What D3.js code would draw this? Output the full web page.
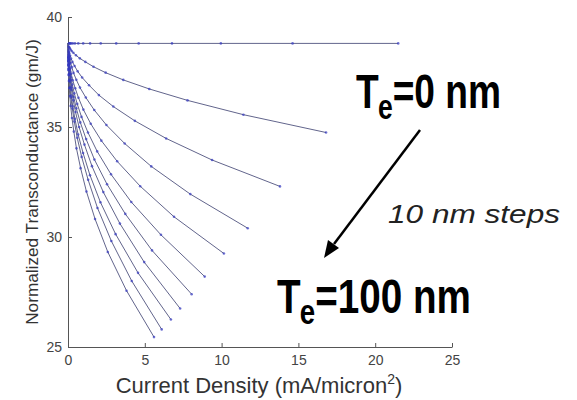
<!DOCTYPE html>
<html>
<head>
<meta charset="utf-8">
<script src="https://cdn.jsdelivr.net/npm/d3@7"></script>
<style>
  html, body { margin: 0; padding: 0; background: #fff; }
  svg { display: block; }
</style>
</head>
<body>
<svg id="chart" width="577" height="400"></svg>
<script>
// Oxide/extension thickness of each curve (nm)
const thickness = [0, 10, 20, 30, 40, 50, 60, 70, 80, 90, 100];

// Current density (mA/micron^2) and normalized transconductance (gm/J) per curve
const J_te0   = [0, 0.07, 0.10, 0.14, 0.21, 0.31, 0.45, 0.67, 0.99, 1.44, 2.13, 3.14, 4.60, 6.77, 9.95, 14.62, 21.5];
const G_te0   = [38.8, 38.8, 38.8, 38.8, 38.8, 38.8, 38.8, 38.8, 38.8, 38.8, 38.8, 38.8, 38.8, 38.8, 38.8, 38.8, 38.8];
const J_te10  = [0, 0.05, 0.08, 0.11, 0.17, 0.24, 0.35, 0.52, 0.77, 1.13, 1.66, 2.45, 3.60, 5.29, 7.78, 11.42, 16.8];
const G_te10  = [38.8, 38.66, 38.62, 38.58, 38.52, 38.45, 38.37, 38.26, 38.12, 37.96, 37.74, 37.47, 37.14, 36.73, 36.21, 35.56, 34.75];
const J_te20  = [0, 0.04, 0.06, 0.09, 0.14, 0.20, 0.29, 0.43, 0.63, 0.92, 1.37, 2.01, 2.95, 4.35, 6.39, 9.38, 13.8];
const G_te20  = [38.8, 38.50, 38.42, 38.34, 38.24, 38.11, 37.96, 37.77, 37.53, 37.25, 36.90, 36.45, 35.93, 35.28, 34.48, 33.50, 32.30];
const J_te30  = [0, 0.04, 0.05, 0.08, 0.12, 0.17, 0.25, 0.36, 0.54, 0.78, 1.16, 1.71, 2.50, 3.69, 5.42, 7.96, 11.7];
const G_te30  = [38.8, 38.41, 38.32, 38.21, 38.07, 37.91, 37.72, 37.46, 37.15, 36.79, 36.34, 35.77, 35.09, 34.25, 33.21, 31.95, 30.40];
const J_te40  = [0, 0.03, 0.05, 0.07, 0.10, 0.15, 0.21, 0.31, 0.47, 0.68, 1.00, 1.48, 2.17, 3.20, 4.70, 6.90, 10.15];
const G_te40  = [38.8, 38.27, 38.15, 38.02, 37.85, 37.65, 37.42, 37.12, 36.76, 36.33, 35.79, 35.15, 34.38, 33.44, 32.31, 30.92, 29.25];
const J_te50  = [0, 0.03, 0.04, 0.06, 0.09, 0.13, 0.19, 0.28, 0.41, 0.60, 0.88, 1.30, 1.90, 2.80, 4.12, 6.05, 8.90];
const G_te50  = [38.8, 38.21, 38.08, 37.93, 37.75, 37.53, 37.26, 36.93, 36.53, 36.05, 35.46, 34.75, 33.89, 32.85, 31.59, 30.10, 28.20];
const J_te60  = [0, 0.02, 0.04, 0.05, 0.08, 0.12, 0.17, 0.25, 0.37, 0.54, 0.80, 1.18, 1.72, 2.54, 3.73, 5.47, 8.05];
const G_te60  = [38.8, 38.17, 38.03, 37.87, 37.67, 37.43, 37.15, 36.79, 36.36, 35.85, 35.21, 34.45, 33.52, 32.40, 31.05, 29.39, 27.40];
const J_te70  = [0, 0.02, 0.03, 0.05, 0.07, 0.11, 0.15, 0.23, 0.34, 0.49, 0.72, 1.07, 1.56, 2.30, 3.38, 4.96, 7.30];
const G_te70  = [38.8, 38.13, 37.98, 37.81, 37.60, 37.35, 37.05, 36.68, 36.22, 35.68, 35.00, 34.20, 33.22, 32.04, 30.61, 28.86, 26.75];
const J_te80  = [0, 0.02, 0.03, 0.04, 0.07, 0.10, 0.14, 0.21, 0.31, 0.45, 0.66, 0.98, 1.43, 2.11, 3.10, 4.56, 6.70];
const G_te80  = [38.8, 38.02, 37.85, 37.67, 37.43, 37.16, 36.83, 36.43, 35.94, 35.37, 34.66, 33.82, 32.81, 31.58, 30.13, 28.37, 26.25];
const J_te90  = [0, 0.02, 0.03, 0.04, 0.06, 0.09, 0.13, 0.19, 0.28, 0.41, 0.60, 0.89, 1.31, 1.92, 2.82, 4.15, 6.10];
const G_te90  = [38.8, 37.99, 37.82, 37.62, 37.38, 37.10, 36.76, 36.34, 35.84, 35.25, 34.51, 33.64, 32.60, 31.32, 29.82, 28.00, 25.80];
const J_te100 = [0, 0.02, 0.03, 0.04, 0.06, 0.08, 0.12, 0.17, 0.26, 0.38, 0.55, 0.82, 1.20, 1.76, 2.59, 3.81, 5.60];
const G_te100 = [38.8, 37.78, 37.58, 37.36, 37.09, 36.77, 36.41, 35.96, 35.41, 34.79, 34.03, 33.13, 32.07, 30.82, 29.32, 27.56, 25.45];

const xTicks = [0, 5, 10, 15, 20, 25];
const yTicks = [25, 30, 35, 40];

const xLabel = "Current Density (mA/micron";
const xLabelSup = "2";
const yLabel = "Normalized Transconductance (gm/J)";

const curvesJ = [J_te0, J_te10, J_te20, J_te30, J_te40, J_te50, J_te60, J_te70, J_te80, J_te90, J_te100];
const curvesG = [G_te0, G_te10, G_te20, G_te30, G_te40, G_te50, G_te60, G_te70, G_te80, G_te90, G_te100];
const series = thickness.map((t, i) => ({
  te: t,
  pts: curvesJ[i].map((j, k) => ({ j: j, g: curvesG[i][k] }))
}));

const svg = d3.select("#chart");
const x = d3.scaleLinear().domain([0, 25]).range([68, 452]);
const y = d3.scaleLinear().domain([25, 40]).range([347, 17]);

const axisColor = "#555";
const tickFont = "'Liberation Sans', Arial, sans-serif";

// X axis
const gx = svg.append("g").attr("transform", `translate(0,${y(25)})`)
  .call(d3.axisBottom(x).tickValues(xTicks).tickSizeInner(-4).tickSizeOuter(0).tickPadding(8));
// Y axis
const gy = svg.append("g").attr("transform", `translate(${x(0)},0)`)
  .call(d3.axisLeft(y).tickValues(yTicks).tickSizeInner(-4).tickSizeOuter(0).tickPadding(6));
[gx, gy].forEach(g => {
  g.select(".domain").attr("stroke", axisColor).attr("stroke-width", 1);
  g.selectAll(".tick line").attr("stroke", axisColor);
  g.selectAll(".tick text").attr("fill", "#444").attr("font-family", tickFont).attr("font-size", 14);
});

// Curves
const line = d3.line().x(d => x(d.j)).y(d => y(d.g));
const gc = svg.append("g");
gc.selectAll("path.curve").data(series).join("path")
  .attr("class", "curve")
  .attr("d", d => line(d.pts))
  .attr("fill", "none")
  .attr("stroke", "#62658c")
  .attr("stroke-width", 1);
gc.selectAll("g.marks").data(series).join("g")
  .attr("class", "marks")
  .selectAll("circle").data(d => d.pts.slice(1)).join("circle")
  .attr("cx", d => x(d.j))
  .attr("cy", d => y(d.g))
  .attr("r", 1.3)
  .attr("fill", "#3338c0")
  .attr("fill-opacity", 0.7);

// Axis titles
const xt = svg.append("text")
  .attr("x", 259).attr("y", 393)
  .attr("text-anchor", "middle")
  .attr("font-family", tickFont).attr("font-size", 22).attr("fill", "#333");
xt.append("tspan").text(xLabel);
xt.append("tspan").attr("font-size", 14).attr("dy", -9).text(xLabelSup);
xt.append("tspan").attr("dy", 9).text(")");

svg.append("text")
  .attr("transform", "translate(38,182) rotate(-90)")
  .attr("text-anchor", "middle")
  .attr("font-family", tickFont).attr("font-size", 17.2).attr("fill", "#333")
  .text(yLabel);

// Annotations (condensed bold)
const bigFont = "'Liberation Sans', Arial, sans-serif";
function teLabel(xp, yp, rest, targetWidth) {
  const g = svg.append("g");
  const t = g.append("text").attr("x", 0).attr("y", 0)
    .attr("font-family", bigFont).attr("font-weight", "bold").attr("font-size", 49).attr("fill", "#000");
  t.append("tspan").text("T");
  t.append("tspan").attr("font-size", 35).attr("dy", 11).attr("dx", -1).text("e");
  t.append("tspan").attr("dy", -11).text(rest);
  const w = t.node().getBBox().width;
  g.attr("transform", `translate(${xp},${yp}) scale(${targetWidth / w},1)`);
}
teLabel(356, 108, "=0 nm", 145);
teLabel(277, 313, "=100 nm", 194);

svg.append("text")
  .attr("x", 388).attr("y", 223)
  .attr("font-family", tickFont).attr("font-style", "italic").attr("font-size", 26).attr("fill", "#222")
  .attr("textLength", 172).attr("lengthAdjust", "spacingAndGlyphs")
  .text("10 nm steps");

// Arrow
svg.append("line")
  .attr("x1", 420).attr("y1", 130).attr("x2", 334).attr("y2", 244)
  .attr("stroke", "#000").attr("stroke-width", 2.5);
svg.append("polygon")
  .attr("points", "324,258 339,248 328,240")
  .attr("fill", "#000");
</script>
</body>
</html>
